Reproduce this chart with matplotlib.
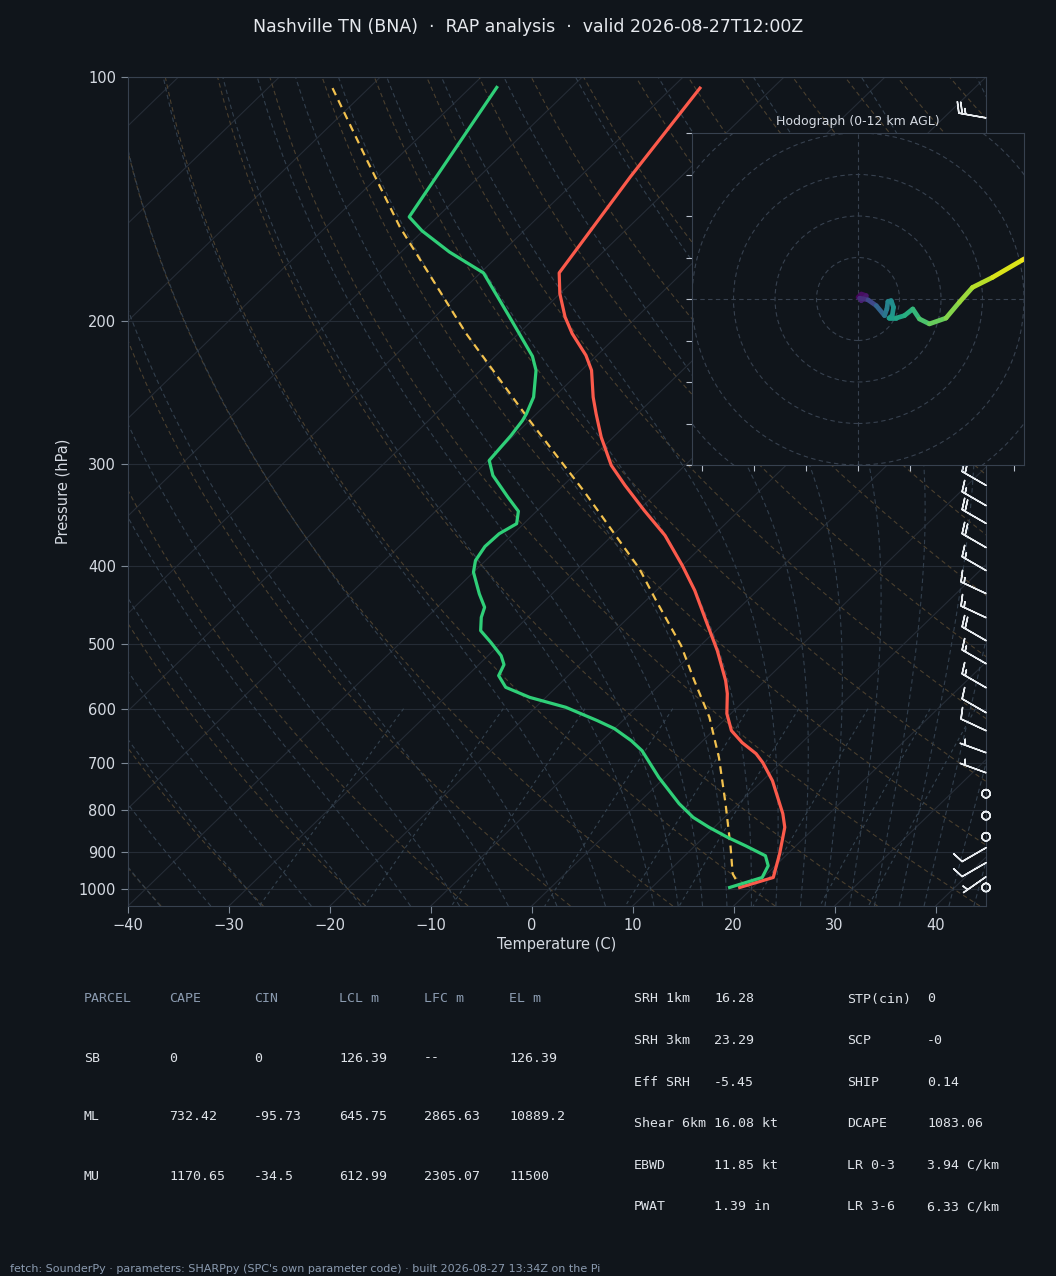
import numpy as np
import matplotlib
matplotlib.use("Agg")
import matplotlib.pyplot as plt
import matplotlib.transforms as mtransforms
from matplotlib.collections import LineCollection

# ─── Colours ─────────────────────────────────────────────────────────────────
BG = "#10151b"
GRID = "#252c36"
SPINE = "#37414f"
TXT = "#d5dae2"
DIM = "#8b9bb0"
DRY = "#4a3f2e"
MOIST = "#323f4d"
MIX = "#34424f"

# ─── Sounding values ────────────────────────────────────────────────────────
temp_p = [103.2, 132.7, 174.3, 184.9, 197.5, 207.0, 220.2, 229.8, 247.9, 259.9,
          277.7, 300.9, 318.4, 342.0, 367.0, 399.7, 429.1, 467.4, 508.9, 554.1,
          574.9, 608.4, 638.5, 660.7, 681.6, 699.3, 736.0, 808.0, 840.0, 905.4,
          968.4, 996.3]
temp_c = [-67.2, -65.0, -62.2, -60.0, -57.1, -54.7, -51.1, -49.0, -46.1, -44.1,
          -41.2, -37.3, -33.9, -29.4, -24.8, -20.0, -16.2, -12.0, -7.8, -3.9,
          -2.4, -0.4, 1.8, 4.1, 6.6, 8.2, 11.0, 15.4, 17.0, 19.2,
          21.0, 18.7]

dewp_p = [103.0, 148.7, 154.7, 164.3, 174.3, 197.5, 220.8, 229.8, 247.9, 259.9,
          264.9, 276.4, 296.7, 309.6, 329.2, 342.7, 355.0, 365.3, 378.7, 394.1,
          407.4, 433.2, 450.0, 463.0, 480.8, 497.0, 516.2, 529.5, 546.3, 564.7,
          581.0, 597.6, 620.7, 634.9, 656.9, 675.9, 729.1, 785.4, 816.6, 840.0,
          864.5, 885.1, 910.6, 936.8, 968.4, 996.3]
dewp_c = [-87.4, -82.8, -80.1, -75.2, -69.7, -62.6, -56.3, -54.5, -52.0, -51.0,
          -50.7, -50.3, -49.9, -48.0, -44.3, -41.8, -40.7, -41.4, -41.5, -41.0,
          -40.0, -37.2, -35.3, -34.6, -33.3, -31.1, -28.7, -27.5, -26.9, -25.0,
          -21.6, -17.0, -12.5, -10.0, -7.1, -5.0, -0.6, 4.1, 6.9, 9.5,
          12.4, 15.0, 18.0, 19.3, 19.9, 17.7]

parcel_p = [103.2, 126.6, 153.0, 207.0, 264.9, 324.6, 403.5, 441.5, 501.7, 554.1,
            614.8, 688.8, 785.4, 889.4, 958.3, 991.5]
parcel_c = [-103.6, -92.8, -82.7, -65.2, -50.0, -37.2, -23.9, -19.0, -11.9, -7.0,
            -1.75, 3.3, 8.7, 13.7, 16.6, 18.5]

# wind barbs (hPa, kt, deg)
barb_p = [112.3, 318.4, 337.2, 354.7, 379.8, 405.4, 432.8, 463.4, 494.6, 528.0,
          565.2, 606.7, 638.5, 679.7, 719.5, 763.6, 812.6, 862.8, 890.1, 928.8,
          966.5, 996.3]
barb_spd = [25, 20, 15, 20, 20, 15, 15, 15, 20, 15,
            15, 10, 10, 5, 5, 0, 0, 0, 10, 10,
            5, 0]
barb_dir = [280, 300, 300, 300, 300, 300, 295, 295, 300, 300,
            300, 300, 295, 290, 290, 0, 0, 0, 240, 240,
            235, 0]

# hodograph (kt) and height (km AGL)
hodo_u = [0.0, 0.8, 2.0, 0.8, 0.4, 2.4, 4.4, 6.4, 6.96, 7.2, 8.0, 8.56, 8.24,
          7.44, 9.2, 11.2, 13.2, 14.8, 17.2, 21.2, 24.4, 27.6, 32.4, 39.6, 43.6]
hodo_v = [0.4, 1.2, 0.8, -0.4, 0.2, -0.2, -1.6, -4.0, -2.4, -0.6, -0.4, -2.0, -4.0,
          -4.6, -4.6, -4.0, -2.4, -4.8, -6.0, -4.6, -0.8, 2.8, 5.2, 9.4, 11.6]
hodo_z = [0.0, 0.3, 0.6, 0.9, 1.1, 2.0, 3.2, 4.5, 5.0, 5.4, 5.7, 6.0, 6.3,
          6.5, 6.9, 7.3, 7.7, 8.3, 8.9, 9.5, 10.0, 10.4, 11.0, 11.6, 12.0]

# parameter tables
parcel_cols = ["PARCEL", "CAPE", "CIN", "LCL m", "LFC m", "EL m"]
parcel_rows = [
    ["SB", "0", "0", "126.39", "--", "126.39"],
    ["ML", "732.42", "-95.73", "645.75", "2865.63", "10889.2"],
    ["MU", "1170.65", "-34.5", "612.99", "2305.07", "11500"],
]
kin_labels = ["SRH 1km", "SRH 3km", "Eff SRH", "Shear 6km", "EBWD", "PWAT"]
kin_values = ["16.28", "23.29", "-5.45", "16.08 kt", "11.85 kt", "1.39 in"]
thermo_labels = ["STP(cin)", "SCP", "SHIP", "DCAPE", "LR 0-3", "LR 3-6"]
thermo_values = ["0", "-0", "0.14", "1083.06", "3.94 C/km", "6.33 C/km"]

# ─── Figure and skew-T axes ─────────────────────────────────────────────────
W, H = 1056, 1276
fig = plt.figure(figsize=(W / 100, H / 100), dpi=100, facecolor=BG)
ax = fig.add_axes([128 / W, 1 - 906 / H, 858 / W, 829 / H])
ax.set_facecolor(BG)
ax.set_yscale("log")
ax.set_ylim(1050, 100)
ax.set_xlim(-40, 45)

# skew in axes space, like a 45 degree skew-T
skew = ax.transScale + ax.transLimits + mtransforms.Affine2D().skew_deg(45, 0) + ax.transAxes

p_grid = np.linspace(1050, 100, 120)

# isobars and isotherms
for pl in range(100, 1001, 100):
    ax.axhline(pl, color=GRID, lw=0.8, zorder=1)
for t in range(-160, 50, 10):
    ax.plot([t, t], [1050, 100], color=GRID, lw=0.8, transform=skew, zorder=1)

# dry adiabats
for t0 in np.arange(-40, 210, 10):
    tt = (t0 + 273.15) * (p_grid / 1000.0) ** 0.2857 - 273.15
    ax.plot(tt, p_grid, color=DRY, lw=0.8, ls=(0, (4, 3)), transform=skew, zorder=1)


# moist adiabats (RK4 integration in pressure)
def moist_dtdp(T, pp):
    es = 6.112 * np.exp(17.67 * (T - 273.15) / (T - 29.65))
    rs = 0.622 * es / (pp - es)
    return (287.04 * T + 2.501e6 * rs) / (1004.6 + 2.501e6 ** 2 * rs * 0.622 / (287.04 * T * T)) / pp


def moist_profile(t0s, p_end, dp):
    T = np.array(t0s, dtype=float) + 273.15
    pp = 1000.0
    ps, ts = [pp], [T.copy()]
    while (dp < 0 and pp > p_end) or (dp > 0 and pp < p_end):
        k1 = moist_dtdp(T, pp)
        k2 = moist_dtdp(T + 0.5 * dp * k1, pp + 0.5 * dp)
        k3 = moist_dtdp(T + 0.5 * dp * k2, pp + 0.5 * dp)
        k4 = moist_dtdp(T + dp * k3, pp + dp)
        T = T + dp / 6.0 * (k1 + 2 * k2 + 2 * k3 + k4)
        pp += dp
        ps.append(pp)
        ts.append(T.copy())
    return np.array(ps), np.array(ts) - 273.15


moist_t0 = np.concatenate((np.arange(-40, 10.1, 5), np.arange(12.5, 45.1, 2.5)))
pu, tu = moist_profile(moist_t0, 100, -5.0)
pd, td = moist_profile(moist_t0, 1050, 5.0)
pm = np.concatenate((pd[::-1], pu[1:]))
tm = np.concatenate((td[::-1], tu[1:]))
for i in range(len(moist_t0)):
    ax.plot(tm[:, i], pm, color=MOIST, lw=0.8, ls=(0, (4, 3)), transform=skew, zorder=1)

# mixing ratio lines
p_mix = np.linspace(600, 1050, 40)
for w in [0.0004, 0.001, 0.002, 0.004, 0.007, 0.01, 0.016, 0.024, 0.032]:
    e = p_mix * w / (0.622 + w)
    ln = np.log(e / 6.112)
    tdw = 243.5 * ln / (17.67 - ln)
    ax.plot(tdw, p_mix, color=MIX, lw=0.8, ls=(0, (3, 3)), transform=skew, zorder=1)

# profiles
ax.plot(parcel_c, parcel_p, color="#f2c14e", lw=1.6, ls=(0, (3.5, 2.5)), transform=skew, zorder=4)
ax.plot(temp_c, temp_p, color="#fb5a4b", lw=2.3, transform=skew, zorder=5)
ax.plot(dewp_c, dewp_p, color="#2fcf78", lw=2.3, transform=skew, zorder=5)

# wind barbs on the right edge
wd = np.deg2rad(barb_dir)
bu = -np.array(barb_spd) * np.sin(wd)
bv = -np.array(barb_spd) * np.cos(wd)
ax.barbs(np.ones(len(barb_p)), barb_p, bu, bv, transform=ax.get_yaxis_transform(),
         clip_on=False, length=6.3, color="#e8ecf0", linewidth=1.1, zorder=6)

ax.set_yscale("log")
ax.set_ylim(1050, 100)
ax.set_xlim(-40, 45)
ax.set_yticks(range(100, 1001, 100))
ax.set_yticklabels([str(v) for v in range(100, 1001, 100)])
ax.yaxis.set_minor_locator(plt.NullLocator())
ax.set_xticks(range(-40, 41, 10))
ax.tick_params(colors="#7d8896", labelcolor=TXT, labelsize=10.5, length=5, width=0.8)
for s in ax.spines.values():
    s.set_color(SPINE)
ax.set_xlabel("Temperature (C)", color=TXT, fontsize=10.5, labelpad=3)
ax.set_ylabel("Pressure (hPa)", color=TXT, fontsize=10.5, labelpad=6)

# ─── Hodograph inset ────────────────────────────────────────────────────────
hx = fig.add_axes([692 / W, 1 - 465 / H, 332 / W, 332 / H])
hx.set_facecolor(BG)
hx.set_xlim(-40, 40)
hx.set_ylim(-40, 40)
for r in range(10, 60, 10):
    hx.add_patch(plt.Circle((0, 0), r, fill=False, color=SPINE, lw=0.8, ls=(0, (4, 3))))
hx.axhline(0, color=SPINE, lw=0.8, ls=(0, (4, 3)))
hx.axvline(0, color=SPINE, lw=0.8, ls=(0, (4, 3)))
pts = np.column_stack([hodo_u, hodo_v])
segs = np.stack([pts[:-1], pts[1:]], axis=1)
zmid = 0.5 * (np.array(hodo_z[:-1]) + np.array(hodo_z[1:]))
lc = LineCollection(segs, cmap="viridis", norm=plt.Normalize(0, 12), linewidths=3.4,
                    capstyle="round", joinstyle="round")
lc.set_array(zmid)
hx.add_collection(lc)
hx.set_xticks([-37.5, -25, -12.5, 0, 12.5, 25, 37.5])
hx.set_yticks(range(-40, 41, 10))
hx.tick_params(colors="#b8c0cc", labelleft=False, labelbottom=False, length=4, width=0.8)
for s in hx.spines.values():
    s.set_color(SPINE)
hx.set_title("Hodograph (0-12 km AGL)", color=TXT, fontsize=9, pad=6)

# ─── Titles and text ────────────────────────────────────────────────────────
fig.text(0.5, 1 - 27 / H, "Nashville TN (BNA)  \u00b7  RAP analysis  \u00b7  valid 2026-08-27T12:00Z",
         ha="center", va="center", color="#e6e9ee", fontsize=12.5)

mono = dict(family="DejaVu Sans Mono", fontsize=9.5, va="center", ha="left")
col_x = [84, 169, 254, 339, 424, 509]
for j, c in enumerate(parcel_cols):
    fig.text(col_x[j] / W, 1 - 999 / H, c, color=DIM, **mono)
for i, row in enumerate(parcel_rows):
    for j, c in enumerate(row):
        fig.text(col_x[j] / W, 1 - (1058 + 59 * i) / H, c, color="#dfe3e9", **mono)

for i in range(len(kin_labels)):
    y = 1 - (999 + 41.6 * i) / H
    fig.text(634 / W, y, kin_labels[i], color="#dfe3e9", **mono)
    fig.text(714 / W, y, kin_values[i], color="#dfe3e9", **mono)
    fig.text(847 / W, y, thermo_labels[i], color="#dfe3e9", **mono)
    fig.text(927 / W, y, thermo_values[i], color="#dfe3e9", **mono)

fig.text(10 / W, 1 - 1269 / H,
         "fetch: SounderPy \u00b7 parameters: SHARPpy (SPC's own parameter code) \u00b7 built 2026-08-27 13:34Z on the Pi",
         color=DIM, fontsize=8, va="center", ha="left")

fig.savefig("out.png", dpi=100, facecolor=BG)
